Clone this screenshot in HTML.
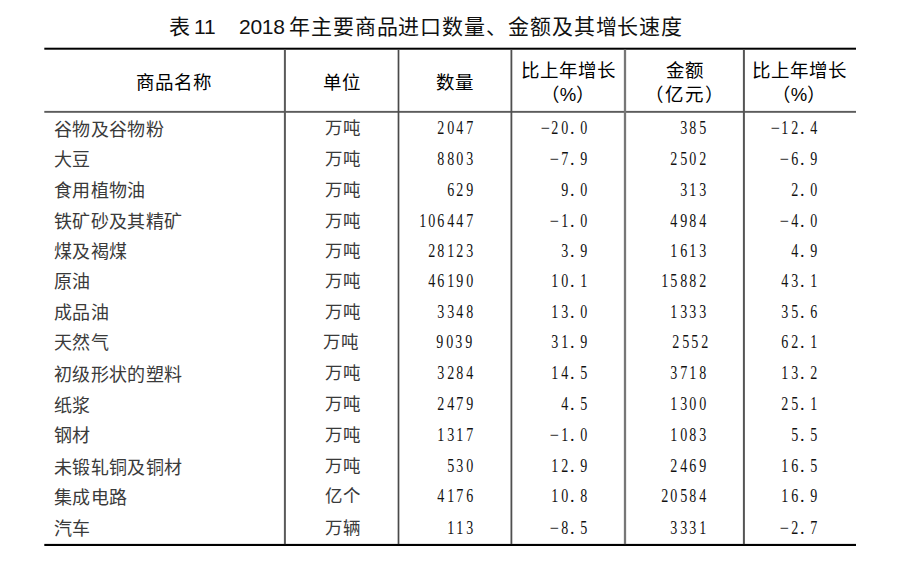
<!DOCTYPE html>
<html lang="zh-CN"><head><meta charset="utf-8"><title>表11</title>
<style>
html,body{margin:0;padding:0;background:#fff;}
body{width:900px;height:566px;position:relative;overflow:hidden;color:#111;font-family:"Liberation Serif",serif;}
div{position:absolute;white-space:nowrap;}
svg{position:absolute;left:0;top:0;}
.title{top:11.5px;font-family:"Liberation Sans",sans-serif;font-size:21px;line-height:30px;color:#111;}
.h1,.h2a,.h2b{font-family:"Liberation Sans",sans-serif;font-size:18.5px;text-align:center;line-height:24px;color:#000;font-weight:500;}
.h1{top:71px;}
.h2a{top:58.5px;}
.h2b{top:83px;}
.nm{color:#3a3a3a;left:54px;font-size:18px;letter-spacing:0.36px;line-height:30px;margin-top:2.5px;}
.un{color:#3a3a3a;left:285.5px;width:114px;text-align:center;font-size:17.5px;letter-spacing:1px;line-height:28px;margin-top:2px;}
.nu{font-size:18px;line-height:30px;margin-top:1px;}
.nu i{font-style:normal;display:inline-block;width:9.4px;text-align:center;transform:scaleX(0.78);}
.nu i.m{transform:translateX(-0.7px) scaleX(0.9);}
.nu i.d{text-align:left;text-indent:0.8px;transform:none;}
</style></head><body>
<div class="title" style="left:169px">表</div>
<div class="title" style="left:194px;margin-top:0px">11</div>
<div class="title" style="left:239px;margin-top:0px;letter-spacing:-0.3px">2018</div>
<div class="title" style="left:289px;letter-spacing:0.9px">年主要商品进口数量、金额及其增长速度</div>
<svg width="900" height="566" style="position:absolute;left:0;top:0"><rect x="44.3" y="47.7" width="811.7" height="2" fill="#000"/><rect x="44.3" y="110.9" width="811.7" height="1.9" fill="#5c5c5c"/><rect x="44.3" y="543.9" width="811.7" height="2.1" fill="#000"/><rect x="283.90" y="49.5" width="2.00" height="494.6" fill="#5a5a5a"/><rect x="397.65" y="49.5" width="1.70" height="494.6" fill="#4a4a4a"/><rect x="510.50" y="49.5" width="1.80" height="494.6" fill="#4f4f4f"/><rect x="623.85" y="49.5" width="2.30" height="494.6" fill="#777"/><rect x="742.90" y="49.5" width="2.00" height="494.6" fill="#555"/></svg>
<div class="h1" style="left:54px;width:240px">商品名称</div>
<div class="h1" style="left:285px;width:114px">单位</div>
<div class="h1" style="left:398px;width:113px">数量</div>
<div class="h2a" style="left:511px;width:114px">比上年增长</div>
<div class="h2b" style="left:511px;width:114px">（%）</div>
<div class="h2a" style="left:626px;width:118px">金额</div>
<div class="h2b" style="left:626px;width:118px"><span style="letter-spacing:1.2px">（亿元）</span></div>
<div class="h2a" style="left:743px;width:112px">比上年增长</div>
<div class="h2b" style="left:743px;width:112px">（%）</div>
<div class="nm" style="top:112.2px">谷物及谷物粉</div>
<div class="un" style="top:112.2px">万吨</div>
<div class="nu" style="top:112.2px;right:426px"><i>2</i><i>0</i><i>4</i><i>7</i></div>
<div class="nu" style="top:112.2px;right:312.0px"><i class="m">&minus;</i><i>2</i><i>0</i><i class="d">.</i><i>0</i></div>
<div class="nu" style="top:112.2px;right:193.0px"><i>3</i><i>8</i><i>5</i></div>
<div class="nu" style="top:112.2px;right:82.0px"><i class="m">&minus;</i><i>1</i><i>2</i><i class="d">.</i><i>4</i></div>
<div class="nm" style="top:142.7px">大豆</div>
<div class="un" style="top:142.7px">万吨</div>
<div class="nu" style="top:142.7px;right:426px"><i>8</i><i>8</i><i>0</i><i>3</i></div>
<div class="nu" style="top:142.7px;right:312.0px"><i class="m">&minus;</i><i>7</i><i class="d">.</i><i>9</i></div>
<div class="nu" style="top:142.7px;right:193.0px"><i>2</i><i>5</i><i>0</i><i>2</i></div>
<div class="nu" style="top:142.7px;right:82.0px"><i class="m">&minus;</i><i>6</i><i class="d">.</i><i>9</i></div>
<div class="nm" style="top:173.5px">食用植物油</div>
<div class="un" style="top:173.5px">万吨</div>
<div class="nu" style="top:173.5px;right:426px"><i>6</i><i>2</i><i>9</i></div>
<div class="nu" style="top:173.5px;right:312.0px"><i>9</i><i class="d">.</i><i>0</i></div>
<div class="nu" style="top:173.5px;right:193.0px"><i>3</i><i>1</i><i>3</i></div>
<div class="nu" style="top:173.5px;right:82.0px"><i>2</i><i class="d">.</i><i>0</i></div>
<div class="nm" style="top:204.6px">铁矿砂及其精矿</div>
<div class="un" style="top:204.6px">万吨</div>
<div class="nu" style="top:204.6px;right:426px"><i>1</i><i>0</i><i>6</i><i>4</i><i>4</i><i>7</i></div>
<div class="nu" style="top:204.6px;right:312.0px"><i class="m">&minus;</i><i>1</i><i class="d">.</i><i>0</i></div>
<div class="nu" style="top:204.6px;right:193.0px"><i>4</i><i>9</i><i>8</i><i>4</i></div>
<div class="nu" style="top:204.6px;right:82.0px"><i class="m">&minus;</i><i>4</i><i class="d">.</i><i>0</i></div>
<div class="nm" style="top:234.5px">煤及褐煤</div>
<div class="un" style="top:234.5px">万吨</div>
<div class="nu" style="top:234.5px;right:426px"><i>2</i><i>8</i><i>1</i><i>2</i><i>3</i></div>
<div class="nu" style="top:234.5px;right:312.0px"><i>3</i><i class="d">.</i><i>9</i></div>
<div class="nu" style="top:234.5px;right:193.0px"><i>1</i><i>6</i><i>1</i><i>3</i></div>
<div class="nu" style="top:234.5px;right:82.0px"><i>4</i><i class="d">.</i><i>9</i></div>
<div class="nm" style="top:264.5px">原油</div>
<div class="un" style="top:264.5px">万吨</div>
<div class="nu" style="top:264.5px;right:426px"><i>4</i><i>6</i><i>1</i><i>9</i><i>0</i></div>
<div class="nu" style="top:264.5px;right:312.0px"><i>1</i><i>0</i><i class="d">.</i><i>1</i></div>
<div class="nu" style="top:264.5px;right:193.0px"><i>1</i><i>5</i><i>8</i><i>8</i><i>2</i></div>
<div class="nu" style="top:264.5px;right:82.0px"><i>4</i><i>3</i><i class="d">.</i><i>1</i></div>
<div class="nm" style="top:295.7px">成品油</div>
<div class="un" style="top:295.7px">万吨</div>
<div class="nu" style="top:295.7px;right:426px"><i>3</i><i>3</i><i>4</i><i>8</i></div>
<div class="nu" style="top:295.7px;right:312.0px"><i>1</i><i>3</i><i class="d">.</i><i>0</i></div>
<div class="nu" style="top:295.7px;right:193.0px"><i>1</i><i>3</i><i>3</i><i>3</i></div>
<div class="nu" style="top:295.7px;right:82.0px"><i>3</i><i>5</i><i class="d">.</i><i>6</i></div>
<div class="nm" style="top:325.7px">天然气</div>
<div class="un" style="top:325.7px;margin-left:-1.5px">万吨</div>
<div class="nu" style="top:325.7px;right:427px"><i>9</i><i>0</i><i>3</i><i>9</i></div>
<div class="nu" style="top:325.7px;right:312.0px"><i>3</i><i>1</i><i class="d">.</i><i>9</i></div>
<div class="nu" style="top:325.7px;right:191.0px"><i>2</i><i>5</i><i>5</i><i>2</i></div>
<div class="nu" style="top:325.7px;right:82.0px"><i>6</i><i>2</i><i class="d">.</i><i>1</i></div>
<div class="nm" style="top:357.2px">初级形状的塑料</div>
<div class="un" style="top:357.2px">万吨</div>
<div class="nu" style="top:357.2px;right:426px"><i>3</i><i>2</i><i>8</i><i>4</i></div>
<div class="nu" style="top:357.2px;right:312.0px"><i>1</i><i>4</i><i class="d">.</i><i>5</i></div>
<div class="nu" style="top:357.2px;right:193.0px"><i>3</i><i>7</i><i>1</i><i>8</i></div>
<div class="nu" style="top:357.2px;right:82.0px"><i>1</i><i>3</i><i class="d">.</i><i>2</i></div>
<div class="nm" style="top:388.3px">纸浆</div>
<div class="un" style="top:388.3px">万吨</div>
<div class="nu" style="top:388.3px;right:426px"><i>2</i><i>4</i><i>7</i><i>9</i></div>
<div class="nu" style="top:388.3px;right:312.0px"><i>4</i><i class="d">.</i><i>5</i></div>
<div class="nu" style="top:388.3px;right:193.0px"><i>1</i><i>3</i><i>0</i><i>0</i></div>
<div class="nu" style="top:388.3px;right:82.0px"><i>2</i><i>5</i><i class="d">.</i><i>1</i></div>
<div class="nm" style="top:418.8px">钢材</div>
<div class="un" style="top:418.8px">万吨</div>
<div class="nu" style="top:418.8px;right:426px"><i>1</i><i>3</i><i>1</i><i>7</i></div>
<div class="nu" style="top:418.8px;right:312.0px"><i class="m">&minus;</i><i>1</i><i class="d">.</i><i>0</i></div>
<div class="nu" style="top:418.8px;right:193.0px"><i>1</i><i>0</i><i>8</i><i>3</i></div>
<div class="nu" style="top:418.8px;right:82.0px"><i>5</i><i class="d">.</i><i>5</i></div>
<div class="nm" style="top:450.4px">未锻轧铜及铜材</div>
<div class="un" style="top:450.4px">万吨</div>
<div class="nu" style="top:450.4px;right:426px"><i>5</i><i>3</i><i>0</i></div>
<div class="nu" style="top:450.4px;right:312.0px"><i>1</i><i>2</i><i class="d">.</i><i>9</i></div>
<div class="nu" style="top:450.4px;right:193.0px"><i>2</i><i>4</i><i>6</i><i>9</i></div>
<div class="nu" style="top:450.4px;right:82.0px"><i>1</i><i>6</i><i class="d">.</i><i>5</i></div>
<div class="nm" style="top:480.2px">集成电路</div>
<div class="un" style="top:480.2px">亿个</div>
<div class="nu" style="top:480.2px;right:426px"><i>4</i><i>1</i><i>7</i><i>6</i></div>
<div class="nu" style="top:480.2px;right:312.0px"><i>1</i><i>0</i><i class="d">.</i><i>8</i></div>
<div class="nu" style="top:480.2px;right:193.0px"><i>2</i><i>0</i><i>5</i><i>8</i><i>4</i></div>
<div class="nu" style="top:480.2px;right:82.0px"><i>1</i><i>6</i><i class="d">.</i><i>9</i></div>
<div class="nm" style="top:511.9px">汽车</div>
<div class="un" style="top:511.9px">万辆</div>
<div class="nu" style="top:511.9px;right:426px"><i>1</i><i>1</i><i>3</i></div>
<div class="nu" style="top:511.9px;right:312.0px"><i class="m">&minus;</i><i>8</i><i class="d">.</i><i>5</i></div>
<div class="nu" style="top:511.9px;right:193.0px"><i>3</i><i>3</i><i>3</i><i>1</i></div>
<div class="nu" style="top:511.9px;right:82.0px"><i class="m">&minus;</i><i>2</i><i class="d">.</i><i>7</i></div>
</body></html>
